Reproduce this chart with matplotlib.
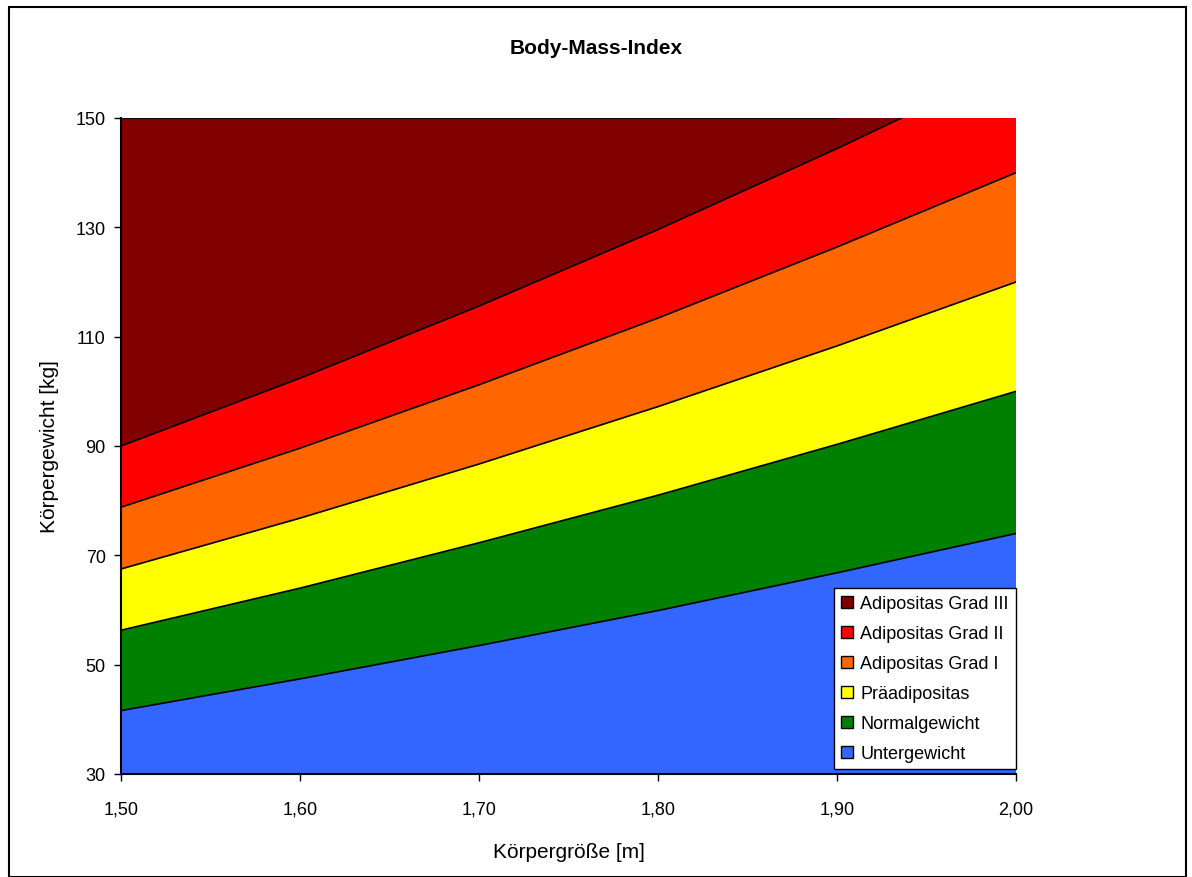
import matplotlib
matplotlib.use('Agg')
import matplotlib.pyplot as plt
from matplotlib.patches import Rectangle, Patch
from matplotlib.ticker import FuncFormatter

plt.rcParams['font.family'] = ['Liberation Sans', 'DejaVu Sans']

# Körpergröße in m und Gewichtsgrenzen in kg (BMI 18,5 / 25 / 30 / 35 / 40)
groesse = [1.50, 1.60, 1.70, 1.80, 1.90, 2.00]
untergewicht = [41.6, 47.4, 53.5, 59.9, 66.8, 74.0]
normalgewicht = [56.3, 64.0, 72.3, 81.0, 90.3, 100.0]
praeadipositas = [67.5, 76.8, 86.7, 97.2, 108.3, 120.0]
grad1 = [78.8, 89.6, 101.2, 113.4, 126.4, 140.0]
grad2 = [90.0, 102.4, 115.6, 129.6, 144.4, 160.0]
grad3 = [150.0, 150.0, 150.0, 150.0, 150.0, 160.0]

namen = ['Untergewicht', 'Normalgewicht', 'Präadipositas',
         'Adipositas Grad I', 'Adipositas Grad II', 'Adipositas Grad III']
farben = ['#3366ff', '#008000', '#ffff00', '#ff6600', '#ff0000', '#800000']

fig = plt.figure(figsize=(11.92, 8.78), dpi=100)
ax = fig.add_axes([121 / 1192, 1 - 775 / 878, (1016 - 121) / 1192, (775 - 119) / 878])

grenzen = [untergewicht, normalgewicht, praeadipositas, grad1, grad2, grad3]
unten = [30] * len(groesse)
for oben, farbe in zip(grenzen, farben):
    ax.fill_between(groesse, unten, oben, facecolor=farbe, edgecolor='none')
    ax.plot(groesse, oben, color='black', lw=1.2)
    unten = oben

ax.set_xlim(1.5, 2.0)
ax.set_ylim(30, 150)
ax.set_xticks(groesse)
ax.set_yticks(range(30, 151, 20))
ax.xaxis.set_major_formatter(FuncFormatter(lambda v, p: f'{v:.2f}'.replace('.', ',')))
ax.tick_params(labelsize=13, length=5, width=1, direction='out', pad=6)
ax.tick_params(axis='x', pad=14)
for s in ['top', 'right']:
    ax.spines[s].set_visible(False)
for s in ['left', 'bottom']:
    ax.spines[s].set_linewidth(1.5)

ax.set_xlabel('Körpergröße [m]', fontsize=15, labelpad=18)
ax.set_ylabel('Körpergewicht [kg]', fontsize=15, labelpad=12)
fig.text(0.5, 1 - 48 / 878, 'Body-Mass-Index', ha='center', va='center',
         fontsize=15, fontweight='bold')

handles = [Patch(facecolor=f, edgecolor='black', label=n)
           for f, n in zip(farben, namen)][::-1]
leg = ax.legend(handles=handles, loc='lower right', bbox_to_anchor=(1.0, 0.007),
                fontsize=13, frameon=True, fancybox=False, borderpad=0.4,
                handlelength=0.65, handleheight=0.65, handletextpad=0.4,
                labelspacing=0.72, borderaxespad=0)
leg.get_frame().set_edgecolor('black')
leg.get_frame().set_linewidth(1)
leg.get_frame().set_alpha(1)

# Rahmen um das Diagramm
fig.patches.append(Rectangle((9 / 1192, 0), 1177 / 1192, 1 - 8 / 878,
                             transform=fig.transFigure, fill=False,
                             edgecolor='black', lw=1.5))

fig.savefig('out.png', dpi=100)
